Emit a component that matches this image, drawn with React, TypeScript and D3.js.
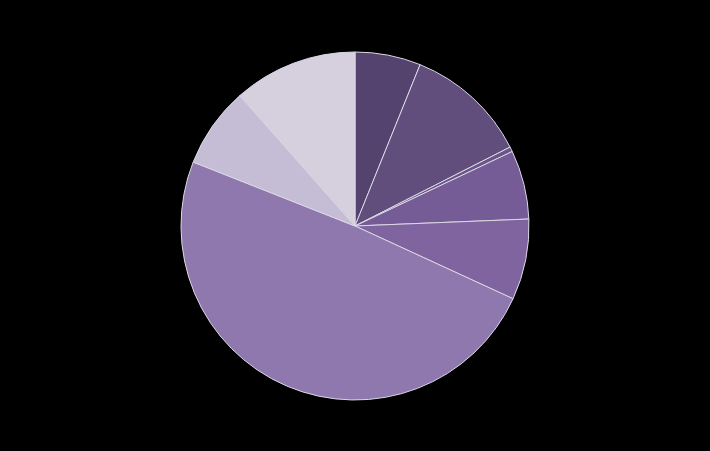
import React from "react";
import * as d3 from "d3";

const categories = ["A", "B", "C", "D", "E", "F", "G", "H"];
const values = [6.1, 11.4, 0.45, 6.4, 7.5, 49.1, 7.5, 11.5];
const colors = ["#54436e", "#614e7c", "#6a5588", "#765c96", "#7f64a0", "#8e78ae", "#c5bdd5", "#d5cfde"];

export default function App() {
  const W = 710, H = 451;
  const cx = 355, cy = 226, r = 174;
  const pie = d3.pie<number>().sort(null).value((d) => d)(values);
  const arc = d3.arc<d3.PieArcDatum<number>>().innerRadius(0).outerRadius(r);
  return (
    <svg width={W} height={H} style={{ position: "absolute", left: 0, top: 0, background: "#000" }}>
      <rect width={W} height={H} fill="#000" />
      <g transform={`translate(${cx},${cy})`}>
        {pie.map((p, i) => (
          <path key={categories[i]} d={arc(p) || ""} fill={colors[i]} stroke="#ddd8e6" strokeWidth={1} strokeLinejoin="round" />
        ))}
      </g>
    </svg>
  );
}
